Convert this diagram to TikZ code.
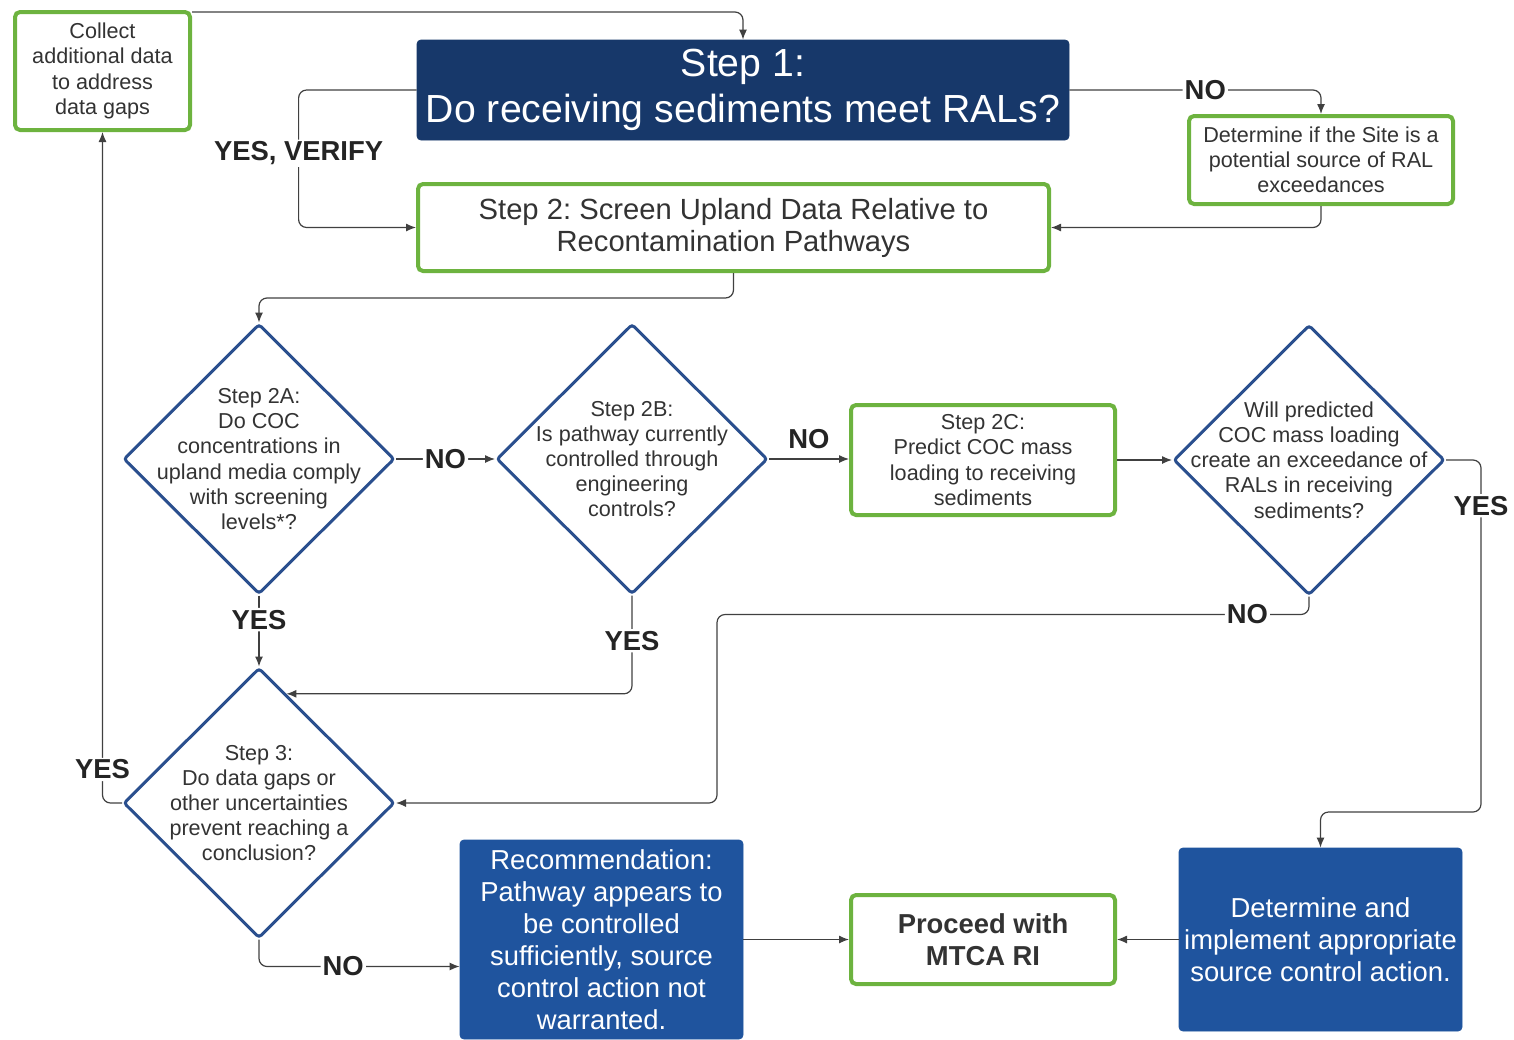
\documentclass[tikz,border=0pt]{standalone}
\usepackage{fontspec}
\setmainfont{Liberation Sans}
\usepackage{xcolor}
\usepackage{tikz}
\usetikzlibrary{arrows.meta,calc,shapes.geometric}
\frenchspacing
\definecolor{navy}{HTML}{17386A}
\definecolor{actionblue}{HTML}{1F549E}
\definecolor{boxgreen}{HTML}{6DB33F}
\definecolor{dblue}{HTML}{2A4F8E}
\definecolor{ink}{HTML}{333333}
\definecolor{wire}{HTML}{404040}
\tikzset{
  >={Latex[length=5pt,width=4pt]},
  flow/.style={->,line width=.6pt,draw=wire,rounded corners=4pt},
  base/.style={align=center,text=ink,inner sep=2pt},
  greenbox/.style={base,draw=boxgreen,line width=2pt,rounded corners=2.5pt,fill=white,
                   font=\fontsize{10.8}{12.6}\selectfont},
  bluebox/.style={base,fill=actionblue,draw=actionblue,rounded corners=2pt,text=white,
                  font=\fontsize{13.7}{16}\selectfont},
  decision/.style={diamond,draw=dblue,line width=1.5pt,fill=white,rounded corners=1.5pt,
                   minimum width=135.5pt,minimum height=135pt,inner sep=0pt},
  dtext/.style={base,font=\fontsize{10.8}{12.6}\selectfont},
  lbl/.style={fill=white,inner sep=1pt,text=ink!70!black,font=\fontsize{13.7}{16}\selectfont\bfseries}
}

\begin{document}
\begin{tikzpicture}[x=.5pt,y=-.5pt]
  \useasboundingbox (0,0) rectangle (1514,1039);
  % boxes
  \node[greenbox,minimum width=87.5pt,minimum height=59pt] (collect) at (102.5,71) {Collect\\additional data\\to address\\data gaps};
  \node[bluebox,fill=navy,draw=navy,minimum width=326pt,minimum height=50pt,
        font=\fontsize{19.6}{23}\selectfont] (step1) at (743,90) {Step 1:\\Do receiving sediments meet RALs?};
  \node[greenbox,minimum width=132pt,minimum height=44pt] (site) at (1321,160) {Determine if the Site is a\\potential source of RAL\\exceedances};
  \node[greenbox,minimum width=315.5pt,minimum height=43.5pt,
        font=\fontsize{14.6}{16}\selectfont] (step2) at (733.5,227.5) {Step 2: Screen Upland Data Relative to\\Recontamination Pathways};
  \node[greenbox,minimum width=132pt,minimum height=55pt] (s2c) at (983,460) {Step 2C:\\Predict COC mass\\loading to receiving\\sediments};
  \node[greenbox,minimum width=132pt,minimum height=44.5pt,
        font=\fontsize{13.7}{16}\selectfont\bfseries] (mtca) at (983,939.5) {Proceed with\\MTCA RI};
  \node[bluebox,minimum width=141.5pt,minimum height=99.5pt] (rec) at (601.5,939.5) {Recommendation:\\Pathway appears to\\be controlled\\sufficiently, source\\control action not\\warranted.};
  \node[bluebox,minimum width=141.5pt,minimum height=91.5pt] (impl) at (1320.5,939.5) {Determine and\\implement appropriate\\source control action.};
  % decisions
  \node[decision] (d2a) at (259,459) {};
  \node[dtext] (d2a-txt) at (d2a) {Step 2A:\\Do COC\\concentrations in\\upland media comply\\with screening\\levels*?};
  \node[decision] (d2b) at (632,459) {};
  \node[dtext] (d2b-txt) at (d2b) {Step 2B:\\Is pathway currently\\controlled through\\engineering\\controls?};
  \node[decision] (dwill) at (1309,460) {};
  \node[dtext] (dwill-txt) at (dwill) {Will predicted\\COC mass loading\\create an exceedance of\\RALs in receiving\\sediments?};
  \node[decision] (d3) at (259,803) {};
  \node[dtext] (d3-txt) at (d3) {Step 3:\\Do data gaps or\\other uncertainties\\prevent reaching a\\conclusion?};
  \coordinate (d3in) at ($(d3.north)!0.2!(d3.east)$);
  \coordinate (recin) at ($(rec.west)+(0,27)$);
  % connectors
  \draw[flow] ([yshift=-1pt]collect.north east) -| (step1.north);
  \draw[flow] (step1.west) -- ++(-118,0) |- (step2.west) node[lbl,pos=.23] {YES, VERIFY};
  \draw[flow] (step1.east) -| (site.north) node[lbl,pos=.27] {NO};
  \draw[flow] (site.south) |- (step2.east);
  \draw[flow] (step2.south) -- ++(0,25) -| (d2a.north);
  \draw[flow] (d2a.east) -- (d2b.west) node[lbl,midway] {NO};
  \draw[flow] (d2b.east) -- (s2c.west|-d2b.east) node[lbl,midway,above=4pt] {NO};
  \draw[flow] (s2c.east) -- (dwill.west);
  \draw[flow] (dwill.east) -| ++(35,352) node[lbl,pos=.565] {YES} -| (impl.north);
  \draw[flow] (dwill.south) -- ++(0,18) -| ($(d3.east)+(321,0)$) node[lbl,pos=.052] {NO} -- (d3.east);
  \draw[flow] (d2a.south) -- (d3.north) node[lbl,pos=.34] {YES};
  \draw[flow] (d2b.south) |- (d3in) node[lbl,pos=.23] {YES};
  \draw[flow] (d3.west) -| (collect.south) node[lbl,pos=.525] {YES};
  \draw[flow] (d3.south) |- (recin) node[lbl,pos=.71] {NO};
  \draw[flow] (rec.east) -- (mtca.west);
  \draw[flow] (impl.west) -- (mtca.east);
\end{tikzpicture}
\end{document}
